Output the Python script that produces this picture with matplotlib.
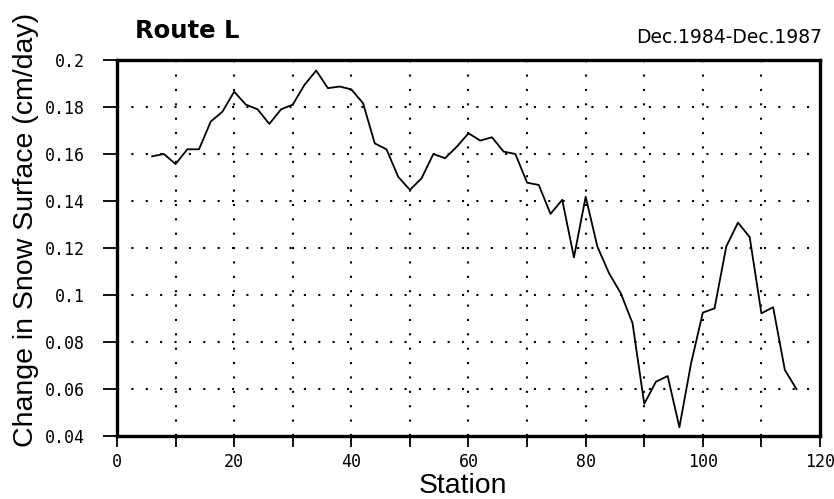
#!/usr/bin/env python3
import matplotlib
matplotlib.use("Agg")
import matplotlib.pyplot as plt
import matplotlib.transforms as mtransforms
from matplotlib.ticker import MultipleLocator, FuncFormatter

# Valores
stations = [6, 8, 10, 12, 14, 16, 18, 20, 22, 24, 26, 28, 30, 32, 34, 36, 38, 40,
            42, 44, 46, 48, 50, 52, 54, 56, 58, 60, 62, 64, 66, 68, 70, 72, 74, 76,
            78, 80, 82, 84, 86, 88, 90, 92, 94, 96, 98, 100, 102, 104, 106, 108,
            110, 112, 114, 116]
change = [0.159, 0.160, 0.1557, 0.162, 0.162, 0.1738, 0.178, 0.1865, 0.181, 0.179,
          0.1728, 0.179, 0.181, 0.1894, 0.1955, 0.188, 0.1887, 0.1875, 0.1816,
          0.1645, 0.162, 0.1503, 0.1447, 0.1497, 0.160, 0.1582, 0.1631, 0.1688,
          0.1657, 0.1671, 0.161, 0.160, 0.1478, 0.1468, 0.1345, 0.1405, 0.116,
          0.1418, 0.1206, 0.1092, 0.1007, 0.088, 0.0537, 0.0631, 0.0655, 0.0437,
          0.0710, 0.0925, 0.0943, 0.1206, 0.1308, 0.1246, 0.0922, 0.0948, 0.0681,
          0.0599]

title = "Route L"
period = "Dec.1984-Dec.1987"
xlabel = "Station"
ylabel = "Change in Snow Surface (cm/day)"

fig = plt.figure(figsize=(8.34, 4.99), dpi=100)
ax = fig.add_axes([0.1403, 0.1263, 0.8429, 0.7535])

ax.plot(stations, change, color="black", linewidth=1.3)

ax.set_xlim(0, 120)
ax.set_ylim(0.04, 0.2)
ax.xaxis.set_major_locator(MultipleLocator(20))
ax.xaxis.set_minor_locator(MultipleLocator(10))
ax.yaxis.set_major_locator(MultipleLocator(0.02))

def fmt_y(v, pos):
    return f"{v:.2f}".rstrip("0")

ax.yaxis.set_major_formatter(FuncFormatter(fmt_y))

# rejilla punteada
dots = (0, (1, 5.9))
for x in range(10, 120, 10):
    ax.axvline(x, color="black", linestyle=dots, linewidth=1.5)
for y in [0.06, 0.08, 0.1, 0.12, 0.14, 0.16, 0.18]:
    ax.axhline(y, color="black", linestyle=dots, linewidth=1.5)

for sp in ax.spines.values():
    sp.set_linewidth(2.4)

ax.tick_params(axis="both", which="both", direction="out", width=1.3)
ax.tick_params(axis="x", which="both", length=8, pad=4)
ax.tick_params(axis="y", length=10, pad=13)
for lab in ax.get_xticklabels() + ax.get_yticklabels():
    lab.set_fontfamily("DejaVu Sans Mono")
    lab.set_fontsize(12)

# la etiqueta 120 queda pegada al borde: se corre un poco a la izquierda
fig.canvas.draw()
last = ax.get_xticklabels()[-1]
last.set_transform(last.get_transform()
                   + mtransforms.ScaledTranslation(-5 / 100, 0, fig.dpi_scale_trans))

fig.text(0.555, 0.012, xlabel, fontsize=20.4, fontfamily="Liberation Sans",
         ha="center", va="baseline")
fig.text(0.031, 0.539, ylabel, fontsize=20.5, fontfamily="Liberation Sans",
         rotation=90, ha="center", va="center")

fig.text(0.162, 0.923, title, fontsize=17.5, fontweight="bold",
         fontfamily="DejaVu Sans", ha="left", va="baseline")
fig.text(0.9856, 0.9144, period, fontsize=13.5, fontfamily="DejaVu Sans",
         ha="right", va="baseline")

fig.savefig("out.png", dpi=100)
